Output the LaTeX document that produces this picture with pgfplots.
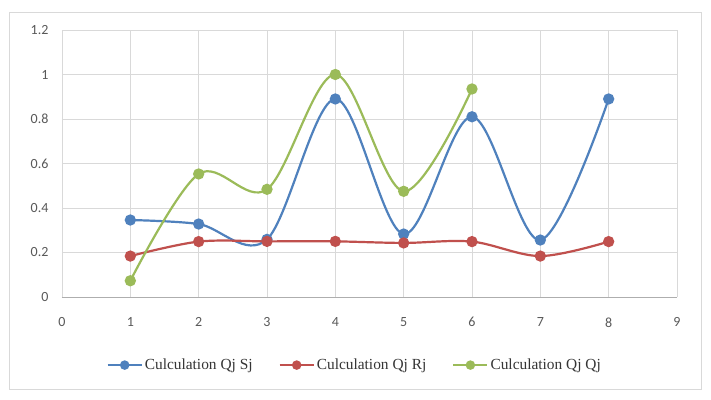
\documentclass[border=0pt]{standalone}
\usepackage{pgfplots}
\pgfplotsset{compat=1.18}
\usepackage{fontspec}
\setmainfont{Liberation Serif}
\newfontfamily\tickfont{Carlito}
\definecolor{cblue}{HTML}{4F81BD}
\definecolor{cred}{HTML}{C0504D}
\definecolor{cgreen}{HTML}{9BBB59}
\definecolor{gridc}{HTML}{D9D9D9}
\definecolor{tickc}{HTML}{595959}
\begin{document}
\begin{tikzpicture}[x=1pt,y=1pt]
\path[fill=white] (0,0) rectangle (711,399);
\draw[color=gridc, line width=0.8pt] (9,10) rectangle (701,387);
\begin{axis}[
  at={(62pt,102pt)}, anchor=south west,
  width=615pt, height=267pt, scale only axis,
  xmin=0, xmax=9, ymin=0, ymax=1.2,
  xtick={0,...,9}, ytick={0,0.2,...,1.2},
  yticklabels={0,0.2,0.4,0.6,0.8,1,1.2},
  grid=major, major grid style={color=gridc, line width=0.8pt},
  axis line style={color=gridc, line width=0.8pt},
  axis x line*=bottom, axis y line*=left,
  x axis line style={color=gridc!80!black},
  tick style={draw=none},
  ticklabel style={font=\fontsize{14}{16}\selectfont\tickfont, text=tickc},
  /pgf/number format/assume math mode=true,
  yticklabel style={xshift=-10pt},
  xticklabel style={yshift=-17pt},
  legend columns=3,
  legend style={at={(rel axis cs:0.476,-0.255)}, anchor=center, draw=none,
    font=\fontsize{15.4}{17}\selectfont, text=tickc!60!black,
    /tikz/every even column/.append style={column sep=24pt}},
  legend image code/.code={
    \draw[#1, mark=none] (0pt,0pt) -- (34pt,0pt);
    \fill[#1] (17pt,0pt) circle (3.6pt);},
  every axis plot/.append style={line width=2.2pt, smooth, tension=0.55,
    mark=*, mark size=4.5pt, mark options={line width=0.4pt}},
]
\addplot[color=cblue, mark options={fill=cblue, draw=cblue}] coordinates {
(1,0.346) (2,0.328) (3,0.259) (4,0.89) (5,0.283) (6,0.81) (7,0.256) (8,0.89)};
\addlegendentry{Culculation Qj Sj}
\addplot[color=cred, mark options={fill=cred, draw=cred}] coordinates {
(1,0.184) (2,0.249) (3,0.25) (4,0.25) (5,0.243) (6,0.249) (7,0.184) (8,0.249)};
\addlegendentry{Culculation Qj Rj}
\addplot[color=cgreen, mark options={fill=cgreen, draw=cgreen}] coordinates {
(1,0.073) (2,0.553) (3,0.484) (4,1.0) (5,0.475) (6,0.935)};
\addlegendentry{Culculation Qj Qj}
\end{axis}
\end{tikzpicture}
\end{document}
